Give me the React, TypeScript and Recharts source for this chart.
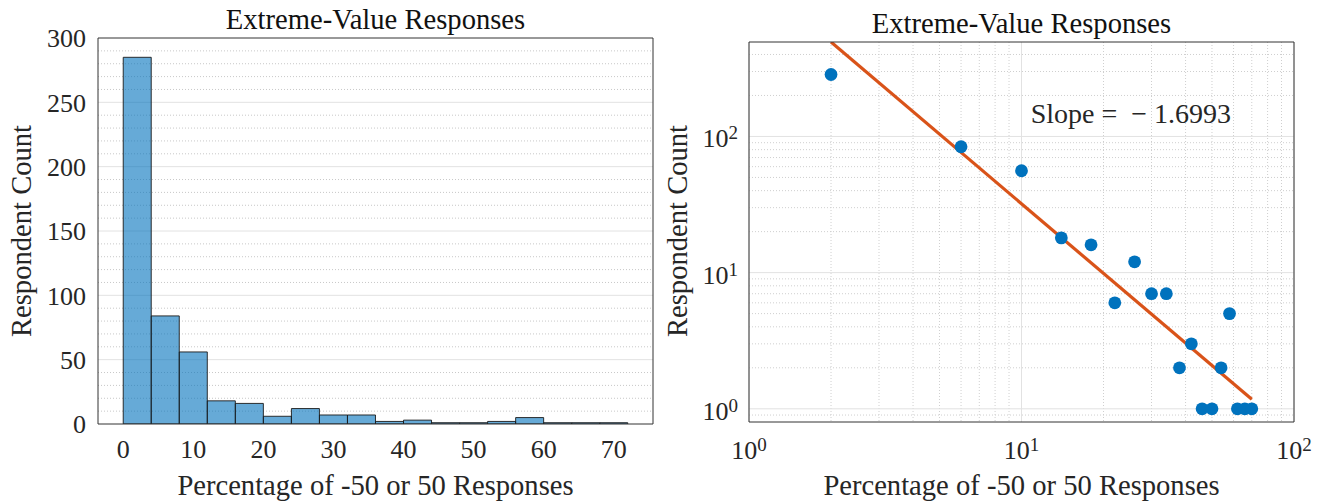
import React from 'react';
import { ComposedChart, Bar, Scatter, Line, XAxis, YAxis, CartesianGrid, Customized } from 'recharts';

const FONT = '"Liberation Serif", "Times New Roman", serif';
const INK = '#262626';
const AXIS = '#333333';

// ---- histogram data ----
const binCenters = [2, 6, 10, 14, 18, 22, 26, 30, 34, 38, 42, 46, 50, 54, 58, 62, 66, 70];
const counts = [285, 84, 56, 18, 16, 6, 12, 7, 7, 2, 3, 1, 1, 2, 5, 1, 1, 1];
const histXTicks = [0, 10, 20, 30, 40, 50, 60, 70];
const histYTicks = [0, 50, 100, 150, 200, 250, 300];
const histYMajorGrid = [50, 100, 150, 200, 250];
const histYMinorGrid = [10, 20, 30, 40, 60, 70, 80, 90, 110, 120, 130, 140, 160, 170, 180, 190, 210, 220, 230, 240, 260, 270, 280, 290];

// ---- log-log chart ticks ----
const logMajor = [1, 10, 100];
const logXMinor = [2, 3, 4, 5, 6, 7, 8, 9, 20, 30, 40, 50, 60, 70, 80, 90];
const logYMinor = [0.9, 2, 3, 4, 5, 6, 7, 8, 9, 20, 30, 40, 50, 60, 70, 80, 90, 200, 300, 400];
const slopeLabel = 'Slope =\u00a0\u00a0\u2212 1.6993';

const histData = binCenters.map((c, i) => ({ center: c, count: counts[i] }));
const pointData = binCenters.map((c, i) => ({ x: c, y: counts[i] }));

// least-squares fit of log10(count) vs log10(x)
const lx = binCenters.map((v) => Math.log10(v));
const ly = counts.map((v) => Math.log10(v));
const mx = lx.reduce((a, b) => a + b, 0) / lx.length;
const my = ly.reduce((a, b) => a + b, 0) / ly.length;
let sxy = 0;
let sxx = 0;
lx.forEach((v, i) => {
  sxy += (v - mx) * (ly[i] - my);
  sxx += (v - mx) * (v - mx);
});
const slope = sxy / sxx;
const intercept = my - slope * mx;
const fitAt = (x: number) => Math.pow(10, intercept + slope * Math.log10(x));
const fitData = [binCenters[0], binCenters[binCenters.length - 1]].map((x) => ({ x, y: fitAt(x) }));
const yTop = fitAt(binCenters[0]);

const tickFont = { fontFamily: FONT, fontSize: 26, fill: INK };

const PowTickX = (props: any) => {
  const { x, y, payload } = props;
  const exp = Math.round(Math.log10(payload.value));
  return (
    <text x={x} y={y + 18.5} textAnchor="middle" fontFamily={FONT} fontSize={26} fill={INK}>
      10<tspan dy={-8} fontSize={19}>{exp}</tspan>
    </text>
  );
};

const PowTickY = (props: any) => {
  const { x, y, payload } = props;
  const exp = Math.round(Math.log10(payload.value));
  return (
    <text x={x} y={y + 11} textAnchor="end" fontFamily={FONT} fontSize={26} fill={INK}>
      10<tspan dy={-8} fontSize={19}>{exp}</tspan>
    </text>
  );
};

const Dot = (props: any) => {
  const { cx, cy } = props;
  return <circle cx={cx} cy={cy} r={6.4} fill="#0072BD" />;
};

const texts = (cx: number, titleY: number, ylx: number, extra?: React.ReactNode) => () => (
  <g fontFamily={FONT} fill={INK}>
    <text x={cx} y={titleY} textAnchor="middle" fontSize={28.6} fill="#111">
      Extreme-Value Responses
    </text>
    <text x={cx} y={495} textAnchor="middle" fontSize={28.6}>
      Percentage of -50 or 50 Responses
    </text>
    <text x={ylx} y={231} textAnchor="middle" fontSize={28.6} transform={`rotate(-90 ${ylx} 231)`}>
      Respondent Count
    </text>
    {extra}
  </g>
);

const HistChart = () => (
  <ComposedChart
    width={660}
    height={502}
    data={histData}
    margin={{ top: 38, right: 7, bottom: 0, left: 0 }}
    barCategoryGap={0}
    barGap={0}
  >
    <CartesianGrid vertical={false} horizontalValues={histYMinorGrid} stroke="#c8c8c8" strokeDasharray="1 2" />
    <CartesianGrid vertical={false} horizontalValues={histYMajorGrid} stroke="#e2e2e2" />
    <XAxis
      dataKey="center"
      type="number"
      domain={[-3.6, 75.6]}
      allowDataOverflow
      ticks={histXTicks}
      interval={0}
      height={78}
      tickLine={false}
      tickSize={0}
      tickMargin={16}
      axisLine={{ stroke: AXIS }}
      tick={tickFont}
    />
    <XAxis xAxisId="tb" type="number" domain={[-3.6, 75.6]} allowDataOverflow ticks={histXTicks} interval={0} mirror height={1} tick={false} axisLine={false} tickSize={6} tickLine={{ stroke: AXIS }} />
    <XAxis xAxisId="tt" orientation="top" type="number" domain={[-3.6, 75.6]} allowDataOverflow ticks={histXTicks} interval={0} mirror height={1} tick={false} axisLine={{ stroke: AXIS }} tickSize={6} tickLine={{ stroke: AXIS }} />
    <YAxis
      type="number"
      domain={[0, 300]}
      allowDataOverflow
      ticks={histYTicks}
      interval={0}
      width={98}
      tickLine={false}
      tickSize={0}
      tickMargin={12}
      axisLine={{ stroke: AXIS }}
      tick={tickFont}
    />
    <YAxis yAxisId="tl" type="number" domain={[0, 300]} allowDataOverflow ticks={histYTicks} interval={0} mirror width={1} tick={false} axisLine={false} tickSize={6} tickLine={{ stroke: AXIS }} />
    <YAxis yAxisId="tr" orientation="right" type="number" domain={[0, 300]} allowDataOverflow ticks={histYTicks} interval={0} mirror width={1} tick={false} axisLine={{ stroke: AXIS }} tickSize={6} tickLine={{ stroke: AXIS }} />
    <Bar dataKey="count" fill="#0072BD" fillOpacity={0.6} stroke="#1a1a1a" strokeWidth={0.9} isAnimationActive={false} />
    <Customized component={texts(375.5, 29.3, 31)} />
  </ComposedChart>
);

const LogChart = () => (
  <ComposedChart width={662} height={502} margin={{ top: 42, right: 28, bottom: 0, left: 0 }}>
    <CartesianGrid horizontalValues={logYMinor} verticalValues={logXMinor} stroke="#cfcfcf" strokeDasharray="1 2" />
    <CartesianGrid horizontalValues={logMajor} verticalValues={logMajor} stroke="#e2e2e2" />
    <XAxis
      dataKey="x"
      type="number"
      scale="log"
      domain={[1, 100]}
      allowDataOverflow
      ticks={logMajor}
      interval={0}
      height={80}
      tickLine={false}
      tickSize={0}
      tickMargin={18}
      axisLine={{ stroke: AXIS }}
      tick={<PowTickX />}
    />
    <XAxis xAxisId="tb" type="number" scale="log" domain={[1, 100]} allowDataOverflow ticks={logMajor} interval={0} mirror height={1} tick={false} axisLine={false} tickSize={6} tickLine={{ stroke: AXIS }} />
    <XAxis xAxisId="tbm" type="number" scale="log" domain={[1, 100]} allowDataOverflow ticks={logXMinor} interval={0} mirror height={1} tick={false} axisLine={false} tickSize={3} tickLine={{ stroke: AXIS }} />
    <XAxis xAxisId="tt" orientation="top" type="number" scale="log" domain={[1, 100]} allowDataOverflow ticks={logMajor} interval={0} mirror height={1} tick={false} axisLine={{ stroke: AXIS }} tickSize={6} tickLine={{ stroke: AXIS }} />
    <XAxis xAxisId="ttm" orientation="top" type="number" scale="log" domain={[1, 100]} allowDataOverflow ticks={logXMinor} interval={0} mirror height={1} tick={false} axisLine={false} tickSize={3} tickLine={{ stroke: AXIS }} />
    <YAxis
      dataKey="y"
      type="number"
      scale="log"
      domain={[0.8, yTop]}
      allowDataOverflow
      ticks={logMajor}
      interval={0}
      width={89}
      tickLine={false}
      tickSize={0}
      tickMargin={11}
      axisLine={{ stroke: AXIS }}
      tick={<PowTickY />}
    />
    <YAxis yAxisId="tl" type="number" scale="log" domain={[0.8, yTop]} allowDataOverflow ticks={logMajor} interval={0} mirror width={1} tick={false} axisLine={false} tickSize={6} tickLine={{ stroke: AXIS }} />
    <YAxis yAxisId="tlm" type="number" scale="log" domain={[0.8, yTop]} allowDataOverflow ticks={logYMinor} interval={0} mirror width={1} tick={false} axisLine={false} tickSize={3} tickLine={{ stroke: AXIS }} />
    <YAxis yAxisId="tr" orientation="right" type="number" scale="log" domain={[0.8, yTop]} allowDataOverflow ticks={logMajor} interval={0} mirror width={1} tick={false} axisLine={{ stroke: AXIS }} tickSize={6} tickLine={{ stroke: AXIS }} />
    <YAxis yAxisId="trm" orientation="right" type="number" scale="log" domain={[0.8, yTop]} allowDataOverflow ticks={logYMinor} interval={0} mirror width={1} tick={false} axisLine={false} tickSize={3} tickLine={{ stroke: AXIS }} />
    <Line data={fitData} dataKey="y" stroke="#D95319" strokeWidth={3.2} dot={false} isAnimationActive={false} />
    <Scatter data={pointData} dataKey="y" shape={<Dot />} isAnimationActive={false} />
    <Customized
      component={texts(
        361.5,
        33.3,
        27,
        <text x={370.7} y={123} fontSize={28}>
          {slopeLabel}
        </text>
      )}
    />
  </ComposedChart>
);

export default function App() {
  return (
    <div style={{ position: 'absolute', left: 0, top: 0, width: 1322, height: 502, background: '#fff' }}>
      <div style={{ position: 'absolute', left: 0, top: 0 }}>
        <HistChart />
      </div>
      <div style={{ position: 'absolute', left: 660, top: 0 }}>
        <LogChart />
      </div>
    </div>
  );
}
